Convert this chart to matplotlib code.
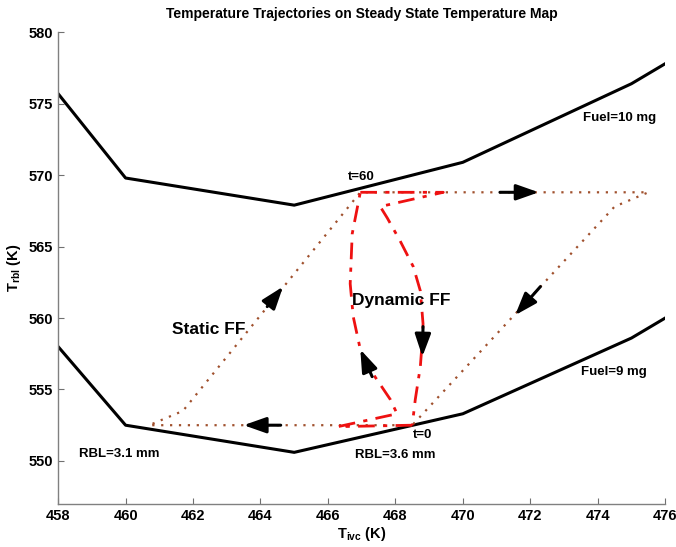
import numpy as np
import matplotlib.pyplot as plt

plt.rcParams['font.family'] = ['Liberation Sans', 'DejaVu Sans']
plt.rcParams['font.weight'] = 'bold'

# steady state map: T_rbl vs T_ivc for the two fuel levels
t_ivc_map = [458, 460, 465, 470, 475, 476]
t_rbl_fuel10 = [575.7, 569.8, 567.9, 570.9, 576.4, 577.8]
t_rbl_fuel9 = [558.0, 552.5, 550.6, 553.3, 558.6, 560.0]

# static feed-forward trajectory (closed loop t=0 -> t=60 -> t=0)
static_ivc = [468.5, 460.7, 461.7, 466.96, 475.5, 474.5, 468.5]
static_rbl = [552.5, 552.5, 553.5, 568.8, 568.8, 567.8, 552.5]

# dynamic feed-forward trajectory
dyn_up_ivc = [468.5, 466.3, 468.05, 467.85, 467.25, 466.96, 466.75, 466.66, 466.72, 466.96]
dyn_up_rbl = [552.5, 552.4, 553.3, 554.3, 556.4, 557.8, 560.1, 562.4, 565.9, 568.8]
dyn_down_ivc = [466.96, 469.42, 467.55, 467.76, 468.14, 468.53, 468.74, 468.82, 468.8, 468.74, 468.59, 468.5]
dyn_down_rbl = [568.8, 568.8, 567.8, 567.0, 565.4, 563.6, 561.9, 559.6, 558.5, 556.6, 554.3, 552.5]

fig = plt.figure(figsize=(6.76, 5.47), dpi=100)
ax = fig.add_axes([0.086, 0.079, 0.898, 0.862])

ax.plot(t_ivc_map, t_rbl_fuel10, color='black', lw=2.2)
ax.plot(t_ivc_map, t_rbl_fuel9, color='black', lw=2.2)

ax.plot(static_ivc, static_rbl, color='#a0502d', lw=1.6, linestyle=(0, (1, 3)))

red_style = dict(color='#ee1111', lw=2.0, linestyle=(0, (6, 3, 1.5, 3)))
ax.plot(dyn_up_ivc, dyn_up_rbl, **red_style)
ax.plot(dyn_down_ivc, dyn_down_rbl, **red_style)

# direction arrows
arrows = [
    ((464.6, 552.5), (463.5, 552.5)),
    ((464.2, 560.8), (464.67, 562.2)),
    ((471.1, 568.8), (472.25, 568.8)),
    ((472.3, 562.2), (471.55, 560.2)),
    ((467.31, 555.9), (466.96, 557.8)),
    ((468.82, 559.4), (468.8, 557.3)),
]
for tail, tip in arrows:
    ax.annotate('', xy=tip, xytext=tail,
                arrowprops=dict(arrowstyle='-|>,head_length=0.85,head_width=0.3',
                                color='black', lw=2.2, mutation_scale=16,
                                shrinkA=0, shrinkB=0))

fs = 9.5
ax.text(473.55, 574.0, 'Fuel=10 mg', fontsize=fs, fontweight='bold', va='center')
ax.text(473.5, 556.2, 'Fuel=9 mg', fontsize=fs, fontweight='bold', va='center')
ax.text(466.6, 569.85, 't=60', fontsize=fs, fontweight='bold', va='center')
ax.text(468.53, 551.8, 't=0', fontsize=fs, fontweight='bold', va='center')
ax.text(458.62, 550.5, 'RBL=3.1 mm', fontsize=fs, fontweight='bold', va='center')
ax.text(466.8, 550.4, 'RBL=3.6 mm', fontsize=fs, fontweight='bold', va='center')
ax.text(461.38, 559.2, 'Static FF', fontsize=12.5, fontweight='bold', va='center')
ax.text(466.72, 561.2, 'Dynamic FF', fontsize=12.5, fontweight='bold', va='center')

ax.set_xlim(458, 476)
ax.set_ylim(547, 580)
ax.set_xticks(np.arange(458, 477, 2))
ax.set_yticks(np.arange(550, 581, 5))
ax.tick_params(direction='in', length=4, labelsize=10.5, color='#707070')
for lab in ax.get_xticklabels() + ax.get_yticklabels():
    lab.set_fontweight('bold')
for side in ['top', 'right']:
    ax.spines[side].set_visible(False)
for side in ['left', 'bottom']:
    ax.spines[side].set_color('#808080')
    ax.spines[side].set_linewidth(1.0)

ax.set_xlabel(r'T$_{\mathregular{ivc}}$ (K)', fontsize=10.5, fontweight='bold', labelpad=2)
ax.set_ylabel(r'T$_{\mathregular{rbl}}$ (K)', fontsize=10.5, fontweight='bold', labelpad=4)
ax.set_title('Temperature Trajectories on Steady State Temperature Map',
             fontsize=10, fontweight='bold', pad=10)

fig.savefig('out.png', dpi=100)
